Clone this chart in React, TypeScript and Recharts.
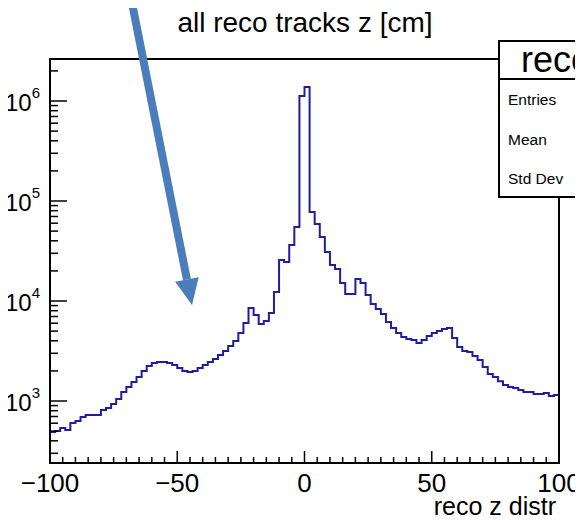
import React from "react";
import { LineChart, Line, XAxis, YAxis } from "recharts";

// bin contents, 2 cm bins
const countsNeg = [
  490, 500, 537, 513, 603, 631, 692, 724, 724, 724, 813, 851, 933, 1047, 1230, 1380, 1549,
  1738, 1995, 2239, 2399, 2455, 2455, 2399, 2291, 2138, 1995, 1950, 1995, 2138, 2291, 2455,
  2630, 2884, 3162, 3548, 3981, 4786, 6026, 8511, 7244, 5888, 6310, 7586, 12300, 25700,
  24550, 36300, 55000, 1122000,
];
const countsPos = [
  1380000, 77600, 58900, 43650, 30900, 22900, 20900, 15100, 11750, 11750, 16600, 15100,
  11480, 9330, 8320, 7410, 6170, 5370, 4790, 4370, 4170, 4070, 3800, 4070, 4470, 4790, 5010,
  5250, 5370, 4270, 3470, 3160, 3090, 2820, 2570, 2190, 1860, 1740, 1580, 1450, 1380, 1350,
  1290, 1230, 1230, 1175, 1175, 1200, 1120, 1150,
];

const zMin = -100;
const zMax = 100;
const binWidth = 2;

const xTicks = [-100, -95, -90, -85, -80, -75, -70, -65, -60, -55, -50, -45, -40, -35, -30, -25, -20, -15, -10, -5, 0, 5, 10, 15, 20, 25, 30, 35, 40, 45, 50, 55, 60, 65, 70, 75, 80, 85, 90, 95, 100];
const yTicks = [
  300, 400, 500, 600, 700, 800, 900,
  1e3, 2e3, 3e3, 4e3, 5e3, 6e3, 7e3, 8e3, 9e3,
  1e4, 2e4, 3e4, 4e4, 5e4, 6e4, 7e4, 8e4, 9e4,
  1e5, 2e5, 3e5, 4e5, 5e5, 6e5, 7e5, 8e5, 9e5,
  1e6, 2e6,
];

const title = "all reco tracks z [cm]";
const xTitle = "reco z distr";
const statsName = "reco";
const statsRows = ["Entries", "Mean", "Std Dev"];

const counts = [...countsNeg, ...countsPos];
const data = counts.map((c, i) => ({ z: zMin + i * binWidth, n: c }));
data.push({ z: zMax, n: counts[counts.length - 1] });

const W = 583;
const H = 522;
const font = "'Liberation Sans', Arial, sans-serif";

const YTick = (props: any) => {
  const { x, y, payload } = props;
  const e = Math.log10(payload.value);
  const major = Math.abs(e - Math.round(e)) < 1e-6;
  return (
    <g>
      <line x1={x} x2={x + (major ? 17 : 8)} y1={y} y2={y} stroke="#000" strokeWidth={1.5} />
      {major && (
        <text x={x - 10} y={y + 10} textAnchor="end" fontSize={24} fill="#000" fontFamily={font}>
          10
          <tspan dy={-13} fontSize={15}>
            {Math.round(e)}
          </tspan>
        </text>
      )}
    </g>
  );
};

const XTick = (props: any) => {
  const { x, y, payload } = props;
  const v = payload.value;
  const major = v % 50 === 0;
  const label = v < 0 ? "\u2212" + Math.abs(v) : String(v);
  return (
    <g>
      <line x1={x} x2={x} y1={y} y2={y - (major ? 12 : 6)} stroke="#000" strokeWidth={1.5} />
      {major && (
        <text x={x} y={y + 29} textAnchor="middle" fontSize={26} fill="#000" fontFamily={font}>
          {label}
        </text>
      )}
    </g>
  );
};

const Arrow = () => {
  const x0 = 131, y0 = -2, x1 = 192, y1 = 305;
  const len = Math.hypot(x1 - x0, y1 - y0);
  const ux = (x1 - x0) / len, uy = (y1 - y0) / len;
  const hl = 26, hw = 12;
  const bx = x1 - ux * hl, by = y1 - uy * hl;
  return (
    <g fill="#4a7dbb" stroke="none">
      <line x1={x0} y1={y0} x2={bx} y2={by} stroke="#4a7dbb" strokeWidth={8} />
      <polygon
        points={`${x1},${y1} ${bx - uy * hw},${by + ux * hw} ${bx + uy * hw},${by - ux * hw}`}
      />
    </g>
  );
};

export default function App() {
  return (
    <div
      style={{
        position: "relative",
        width: W,
        height: H,
        margin: "-8px 0 0 -8px",
        overflow: "hidden",
        background: "#fff",
      }}
    >
      <LineChart
        width={W}
        height={H}
        data={data}
        margin={{ top: 59, right: 24, left: 0, bottom: 29 }}
      >
        <XAxis
          dataKey="z"
          type="number"
          domain={[zMin, zMax]}
          ticks={xTicks}
          interval={0}
          axisLine={false}
          tickLine={false}
          tickSize={0}
          tickMargin={0}
          height={30}
          tick={<XTick />}
        />
        <YAxis
          type="number"
          scale="log"
          domain={[240, 2630000]}
          allowDataOverflow
          ticks={yTicks}
          interval={0}
          axisLine={false}
          tickLine={false}
          tickSize={0}
          tickMargin={0}
          width={50}
          tick={<YTick />}
        />
        <Line
          type="stepAfter"
          dataKey="n"
          stroke="#1f1f9e"
          strokeWidth={2}
          dot={false}
          isAnimationActive={false}
        />
      </LineChart>
      <svg
        width={W}
        height={H}
        style={{ position: "absolute", left: 0, top: 0, pointerEvents: "none" }}
        fontFamily={font}
      >
        <rect x={50} y={59} width={509} height={404} fill="none" stroke="#000" strokeWidth={2} />
        <text x={305} y={32} textAnchor="middle" fontSize={28} fill="#000">
          {title}
        </text>
        <text x={556} y={515} textAnchor="end" fontSize={25} fill="#000">
          {xTitle}
        </text>
        <rect x={499} y={41} width={120} height={156} fill="#fff" stroke="#000" strokeWidth={2} />
        <line x1={499} x2={619} y1={79} y2={79} stroke="#000" strokeWidth={2} />
        <text x={521} y={72} fontSize={36} fill="#000">
          {statsName}
        </text>
        {statsRows.map((r, i) => (
          <text key={r} x={508} y={105 + i * 39.5} fontSize={15.5} fill="#000">
            {r}
          </text>
        ))}
        <text x={578} y={105} fontSize={15.5} fill="#000">
          3
        </text>
        <Arrow />
      </svg>
    </div>
  );
}
